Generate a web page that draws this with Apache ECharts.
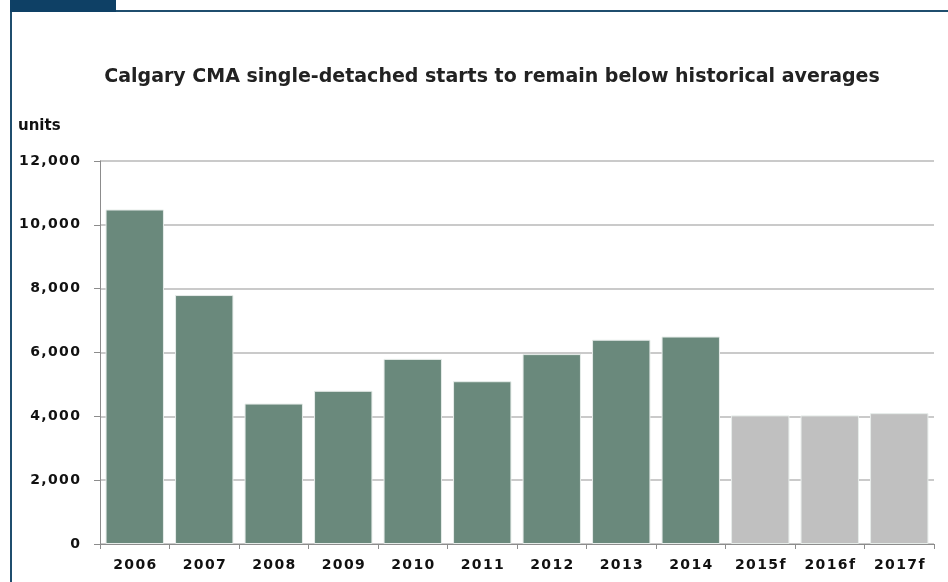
<!DOCTYPE html>
<html>
<head>
<meta charset="utf-8">
<script src="https://cdn.jsdelivr.net/npm/echarts@6/dist/echarts.min.js"></script>
<style>
  html, body { margin: 0; padding: 0; background: #fff; }
  #chart { width: 948px; height: 582px; }
</style>
</head>
<body>
<div id="chart"></div>
<script>
// 年份与数值（f = 预测）
const years = ["2006", "2007", "2008", "2009", "2010", "2011", "2012", "2013", "2014", "2015f", "2016f", "2017f"];
const starts = [10480, 7800, 4400, 4800, 5800, 5100, 5950, 6400, 6500, 4030, 4030, 4100];
const forecast = [false, false, false, false, false, false, false, false, false, true, true, true];

const chart = echarts.init(document.getElementById("chart"));

chart.setOption({
  backgroundColor: "#fff",
  animation: false,
  title: {
    text: "Calgary CMA single-detached starts to remain below historical averages",
    left: 487,
    textAlign: "center",
    top: 63,
    textStyle: { fontFamily: "DejaVu Sans", fontWeight: "bold", fontSize: 19, color: "#222" }
  },
  graphic: [
    // 左侧边框和顶部标签
    { type: "rect", shape: { x: 10, y: 0, width: 2, height: 582 }, style: { fill: "#1f4e6e" } },
    { type: "rect", shape: { x: 10, y: 0, width: 106, height: 12 }, style: { fill: "#0e4065" } },
    { type: "rect", shape: { x: 116, y: 10, width: 832, height: 2 }, style: { fill: "#1f4e6e" } },
    {
      type: "text", left: 18, top: 119,
      style: { text: "units", font: "bold 15px 'DejaVu Sans'", fill: "#111" }
    }
  ],
  grid: { left: 100, right: 14, top: 161, bottom: 38, containLabel: false },
  xAxis: {
    type: "category",
    data: years,
    axisLine: { lineStyle: { color: "#8c8c8c" } },
    axisTick: { show: true, alignWithLabel: false, length: 5, lineStyle: { color: "#8c8c8c" } },
    axisLabel: {
      color: "#111", fontFamily: "DejaVu Sans", fontWeight: "bold", fontSize: 14, margin: 14,
      formatter: v => v.split("").join("\u200A")
    }
  },
  yAxis: {
    type: "value",
    min: 0, max: 12000, interval: 2000,
    axisLine: { show: true, lineStyle: { color: "#8c8c8c" } },
    axisTick: { show: true, length: 6, lineStyle: { color: "#8c8c8c" } },
    splitLine: { lineStyle: { color: "#b8b8b8", width: 1.5 } },
    axisLabel: {
      color: "#111", fontFamily: "DejaVu Sans", fontWeight: "bold", fontSize: 14, margin: 20,
      formatter: v => v.toLocaleString("en-US").split("").join("\u200A")
    }
  },
  series: [{
    type: "bar",
    barCategoryGap: "16%",
    data: starts.map((v, i) => ({
      value: v,
      itemStyle: { color: forecast[i] ? "#c0c0c0" : "#6a897c" }
    })),
    itemStyle: { borderColor: "#e6ece9", borderWidth: 1 }
  }]
});
</script>
</body>
</html>
